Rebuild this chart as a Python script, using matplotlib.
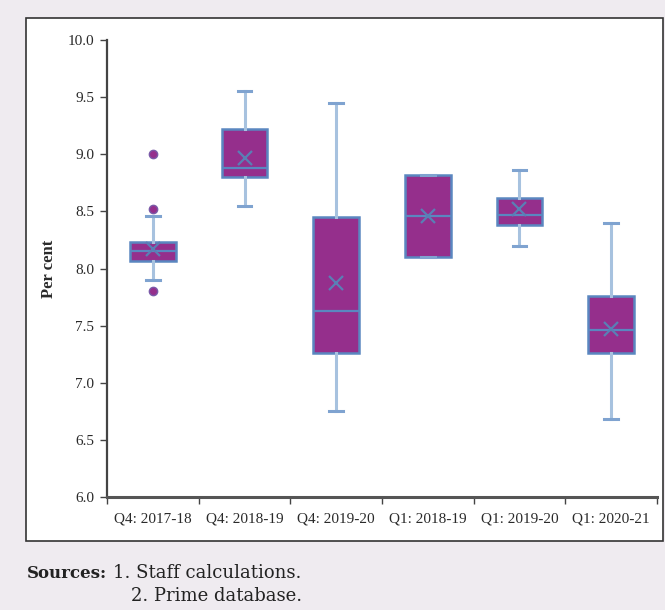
import numpy as np
import matplotlib.pyplot as plt
from matplotlib.patches import Rectangle

# data (per cent)
labels = ["Q4: 2017-18", "Q4: 2018-19", "Q4: 2019-20",
          "Q1: 2018-19", "Q1: 2019-20", "Q1: 2020-21"]
whislo = [7.90, 8.55, 6.75, 8.10, 8.20, 6.68]
q1 = [8.07, 8.80, 7.26, 8.10, 8.38, 7.26]
med = [8.15, 8.88, 7.63, 8.46, 8.47, 7.46]
q3 = [8.23, 9.22, 8.45, 8.82, 8.62, 7.76]
whishi = [8.46, 9.55, 9.45, 8.82, 8.86, 8.40]
means = [8.17, 8.97, 7.87, 8.46, 8.52, 7.47]
fliers = [[9.00, 8.52, 7.80], [], [], [], [], []]

purple = "#952f8c"
edge_blue = "#5a87c0"
whisk_blue = "#a7c2df"
bg = "#efebf0"

stats = []
for i in range(len(labels)):
    stats.append(dict(label=labels[i], whislo=whislo[i], q1=q1[i], med=med[i],
                      q3=q3[i], whishi=whishi[i], mean=means[i], fliers=fliers[i]))

fig = plt.figure(figsize=(6.65, 6.1), dpi=100, facecolor=bg)
# white panel behind the chart
fig.patches.append(Rectangle((26 / 665, 1 - 541 / 610), (663 - 26) / 665, (541 - 18) / 610,
                             transform=fig.transFigure, facecolor="white",
                             edgecolor="#333333", linewidth=1.2, zorder=-5))

ax = fig.add_axes([107 / 665, 1 - 497 / 610, (657 - 107) / 665, (497 - 40) / 610])
ax.set_facecolor("white")

ax.bxp(stats, positions=np.arange(1, 7), widths=0.5, capwidths=0.15,
       showmeans=True, patch_artist=True,
       boxprops=dict(facecolor=purple, edgecolor=edge_blue, linewidth=1.8),
       medianprops=dict(color=edge_blue, linewidth=1.6),
       whiskerprops=dict(color=whisk_blue, linewidth=2.2),
       capprops=dict(color="#7fa3d0", linewidth=2.2),
       meanprops=dict(marker="x", markeredgecolor="#5a7fb5", markersize=10,
                      markeredgewidth=1.6),
       flierprops=dict(marker="o", markerfacecolor=purple, markeredgecolor="#7a5aa8",
                       markersize=6))

ax.set_xlim(0.5, 6.5)
ax.set_ylim(6.0, 10.0)
ax.set_yticks(np.arange(6.0, 10.01, 0.5))
ax.set_yticklabels([f"{v:.1f}" for v in np.arange(6.0, 10.01, 0.5)])
ax.set_xticks(np.arange(0.5, 6.6, 1.0))
ax.set_xticklabels([])
ax.set_xticks(np.arange(1, 7), minor=True)
ax.set_xticklabels(labels, minor=True)
ax.tick_params(axis="x", which="minor", length=0, pad=11)
ax.tick_params(axis="x", which="major", length=5, width=1, color="#444444")
ax.tick_params(axis="y", length=5, width=1, color="#444444", pad=4)

for lab in ax.get_xticklabels(minor=True) + ax.get_yticklabels():
    lab.set_fontfamily("Liberation Serif")
    lab.set_fontsize(11)
    lab.set_color("#2a2a2a")

for s in ["top", "right"]:
    ax.spines[s].set_visible(False)
ax.spines["left"].set_color("#444444")
ax.spines["left"].set_linewidth(1.6)
ax.spines["bottom"].set_color("#555555")
ax.spines["bottom"].set_linewidth(2.2)

ax.set_ylabel("Per cent", fontfamily="Liberation Serif", fontsize=12,
              fontweight="bold", color="#2a2a2a", labelpad=8)

fig.text(27 / 665, 1 - 573 / 610, "Sources:", fontfamily="DejaVu Serif",
         fontweight="bold", fontsize=12, va="center", color="#222222")
fig.text(113 / 665, 1 - 573 / 610, "1. Staff calculations.", fontfamily="DejaVu Serif",
         fontsize=13, va="center", color="#222222")
fig.text(131 / 665, 1 - 596 / 610, "2. Prime database.", fontfamily="DejaVu Serif",
         fontsize=13, va="center", color="#222222")

fig.savefig("out.png", dpi=100, facecolor=bg)
